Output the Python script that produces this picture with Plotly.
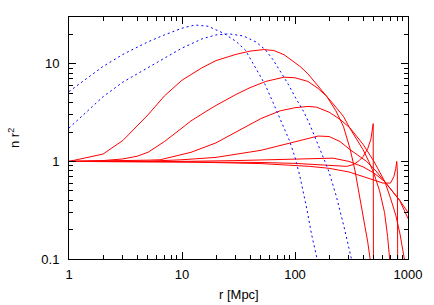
import plotly.graph_objects as go

# ---- data ----
r_blue1 = [1, 2, 3, 5, 7, 10, 13, 17, 23.5, 30, 36.3, 45, 54.5, 64, 74.4, 90, 100, 110, 127, 140, 157, 165]
n_blue1 = [5.2, 9.4, 12.5, 16.8, 19.8, 23.2, 25.0, 24.3, 20.5, 17.0, 13.9, 9.0, 6.1, 4.0, 2.67, 1.6, 1.1, 0.72, 0.33, 0.18, 0.1, 0.075]

r_blue2 = [1, 2, 3, 5, 7, 10, 15, 20, 26, 35, 45, 54.5, 64, 74, 87, 100, 120, 136, 155, 184, 200, 232, 270, 313, 330]
n_blue2 = [2.2, 4.6, 6.5, 9.2, 11.5, 14.5, 18.0, 19.8, 20.3, 19.3, 16.8, 14.0, 11.0, 8.5, 6.2, 4.6, 3.2, 2.35, 1.65, 1.0, 0.78, 0.44, 0.22, 0.1, 0.08]

r_A = [1, 2, 3, 4, 5, 7, 10, 15, 20, 30, 40, 53, 65, 80, 100, 111, 130, 160, 191, 230, 268, 307, 340, 362, 400, 440, 475]
n_A = [1, 1.19, 1.64, 2.3, 3.0, 4.7, 6.8, 9.1, 10.8, 12.5, 13.5, 14.0, 13.7, 12.4, 10.4, 9.4, 7.9, 6.0, 4.64, 3.3, 2.29, 1.35, 0.8, 0.53, 0.29, 0.15, 0.08]

r_B = [1, 2, 3, 4, 5, 7, 10, 12, 17, 20, 30, 40, 55, 80, 100, 130, 160, 191, 230, 268, 305, 350, 400, 450, 500, 560, 620, 660, 700]
n_B = [1, 1.02, 1.06, 1.13, 1.24, 1.6, 2.2, 2.6, 3.35, 3.75, 4.85, 5.7, 6.6, 7.3, 7.2, 6.6, 5.6, 4.64, 3.6, 2.9, 2.2, 1.7, 1.32, 1.0, 0.75, 0.5, 0.3, 0.17, 0.08]

r_C = [1, 3, 5, 6.4, 10, 12, 20, 30, 50, 74, 100, 130, 155, 200, 250, 307, 400, 500, 624, 700, 780, 850, 900, 940, 960]
n_C = [1, 1.01, 1.03, 1.04, 1.17, 1.24, 1.55, 2.0, 2.75, 3.3, 3.55, 3.66, 3.6, 3.2, 2.7, 2.2, 1.5, 1.0, 0.62, 0.42, 0.28, 0.18, 0.13, 0.1, 0.08]

r_D = [1, 5, 10, 20, 50, 100, 135, 160, 200, 250, 307, 430, 520, 624, 700, 843, 1000]
n_D = [1, 1.005, 1.04, 1.1, 1.3, 1.6, 1.74, 1.82, 1.8, 1.6, 1.32, 1.0, 0.8, 0.62, 0.52, 0.4, 0.3]

r_E = [1, 10, 30, 100, 135, 217, 300, 400, 500, 624, 843, 1000]
n_E = [1, 1.0, 1.02, 1.06, 1.08, 1.08, 1.0, 0.88, 0.76, 0.62, 0.4, 0.26]

r_F = [1, 10, 50, 100, 200, 287, 330, 370, 400, 440, 470, 485, 492, 495]
n_F = [1, 0.995, 0.975, 0.955, 0.92, 0.89, 0.93, 1.02, 1.12, 1.35, 1.7, 2.1, 2.44, 0.05]

r_G = [1, 10, 50, 100, 135, 200, 300, 400, 500, 600, 700, 750, 780, 795, 805, 812]
n_G = [1, 0.99, 0.95, 0.91, 0.89, 0.85, 0.78, 0.7, 0.64, 0.6, 0.6, 0.7, 0.85, 1.0, 0.8, 0.05]

x_ticks = [1, 10, 100, 1000]
x_ticktext = ["1", "10", "100", "1000"]
y_ticks = [0.1, 1, 10]
y_ticktext = ["0.1", "1", "10"]

red_series = [(r_A, n_A), (r_B, n_B), (r_C, n_C), (r_D, n_D), (r_E, n_E), (r_F, n_F), (r_G, n_G)]
blue_series = [(r_blue1, n_blue1), (r_blue2, n_blue2)]

FONT = "Liberation Sans, Arial, Helvetica, sans-serif"

fig = go.Figure()
for rx, ny in red_series:
    fig.add_trace(go.Scatter(x=rx, y=ny, mode="lines",
                             line=dict(color="rgb(255,0,0)", width=1)))
for rx, ny in blue_series:
    fig.add_trace(go.Scatter(x=rx, y=ny, mode="lines",
                             line=dict(color="rgb(0,0,255)", width=1, dash="2px,3px")))

minor_x = [m * d for d in (1, 10, 100) for m in range(2, 10)]
minor_y = [m * d for d in (0.1, 1, 10) for m in range(2, 10)]

axis_common = dict(
    type="log", showgrid=False, zeroline=False,
    showline=True, linecolor="black", linewidth=1, mirror="allticks",
    ticks="inside", ticklen=7, tickwidth=1, tickcolor="black",
    tickfont=dict(family=FONT, size=13, color="black"),
)

fig.update_xaxes(**axis_common, range=[0, 3], tickvals=x_ticks, ticktext=x_ticktext,
                 ticklabelstandoff=3,
                 minor=dict(tickvals=minor_x, ticks="inside", ticklen=4, tickcolor="black", showgrid=False))
fig.update_yaxes(**axis_common, range=[-1, 1.48], tickvals=y_ticks, ticktext=y_ticktext,
                 ticklabelstandoff=6,
                 minor=dict(tickvals=minor_y, ticks="inside", ticklen=4, tickcolor="black", showgrid=False))

fig.update_layout(
    width=434, height=305,
    margin=dict(l=69, r=26, t=17, b=46),
    paper_bgcolor="white", plot_bgcolor="white",
    showlegend=False,
    font=dict(family=FONT, size=13, color="black"),
    annotations=[
        dict(text="r [Mpc]", xref="paper", yref="paper", x=0.5, y=0, yshift=-35,
             showarrow=False, font=dict(family=FONT, size=13, color="black"),
             xanchor="center", yanchor="middle"),
        dict(text="n r<sup>2</sup>", xref="paper", yref="paper", x=0, y=0.5, xshift=-55,
             showarrow=False, textangle=-90, font=dict(family=FONT, size=13, color="black"),
             xanchor="center", yanchor="middle"),
    ],
)

fig.write_html("out.html", config={"displayModeBar": False},
               post_script="document.body.style.margin='0';document.body.style.padding='0';")
